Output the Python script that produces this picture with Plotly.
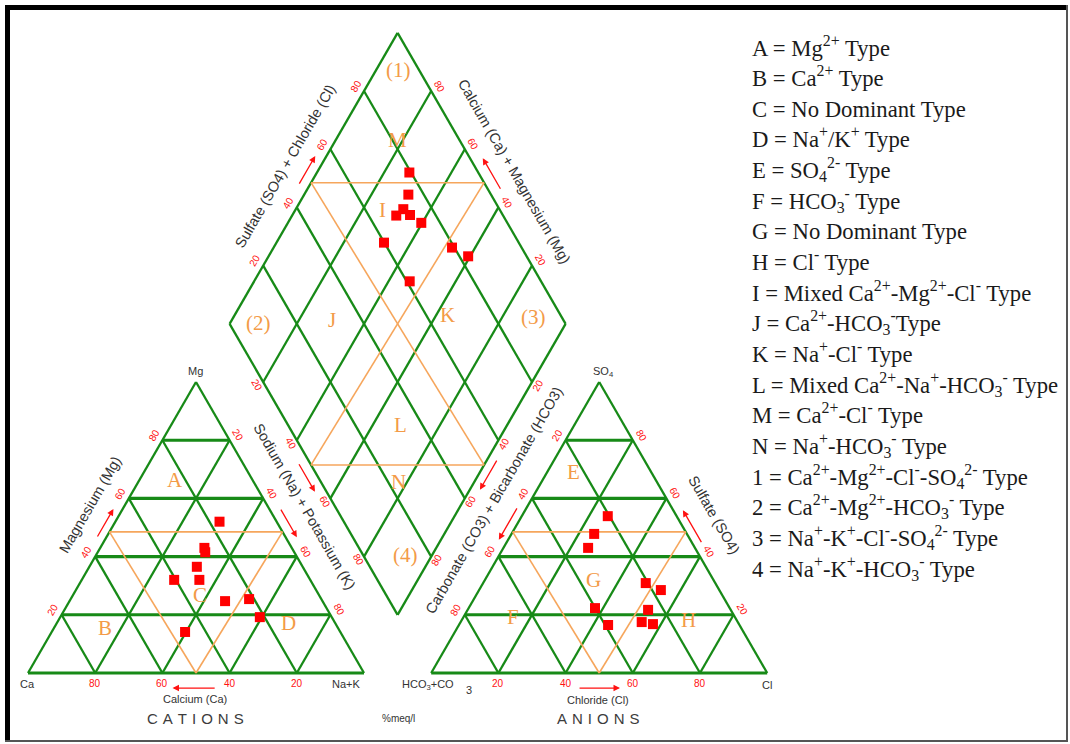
import numpy as np
import plotly.graph_objects as go

# ---------------- sample chemistry (% of total meq/l) ----------------
# cations
ca = [17.0, 26.0, 26.5, 31.5, 40.5, 33.0, 29.0, 21.5, 21.4, 46.2]
mg = [52.0, 43.0, 41.5, 36.5, 32.0, 32.0, 24.7, 25.4, 19.2, 14.1]
nak = [31.0, 31.0, 32.0, 32.0, 27.5, 35.0, 46.3, 53.1, 59.4, 39.7]
# anions
hco3 = [24.6, 31.8, 28.6, 40.1, 20.5, 27.6, 39.1, 20.7, 17.4, 25.6]
so4 = [21.7, 43.0, 17.5, 22.3, 53.9, 47.8, 16.5, 30.9, 28.5, 16.8]
cl = [53.7, 25.2, 53.9, 37.6, 25.6, 24.6, 44.4, 48.4, 54.1, 57.6]

tick_values = [20, 40, 60, 80]
facies_level = 48.5   # height (%) of the orange facies boundaries

legend_lines = [
    "A = Mg<sup>2+</sup> Type",
    "B = Ca<sup>2+</sup> Type",
    "C = No Dominant Type",
    "D = Na<sup>+</sup>/K<sup>+</sup> Type",
    "E = SO<sub>4</sub><sup>2-</sup> Type",
    "F = HCO<sub>3</sub><sup>-</sup> Type",
    "G = No Dominant Type",
    "H = Cl<sup>-</sup> Type",
    "I = Mixed Ca<sup>2+</sup>-Mg<sup>2+</sup>-Cl<sup>-</sup> Type",
    "J = Ca<sup>2+</sup>-HCO<sub>3</sub><sup>-</sup>Type",
    "K = Na<sup>+</sup>-Cl<sup>-</sup> Type",
    "L = Mixed Ca<sup>2+</sup>-Na<sup>+</sup>-HCO<sub>3</sub><sup>-</sup> Type",
    "M = Ca<sup>2+</sup>-Cl<sup>-</sup> Type",
    "N = Na<sup>+</sup>-HCO<sub>3</sub><sup>-</sup> Type",
    "1 = Ca<sup>2+</sup>-Mg<sup>2+</sup>-Cl<sup>-</sup>-SO<sub>4</sub><sup>2-</sup> Type",
    "2 = Ca<sup>2+</sup>-Mg<sup>2+</sup>-HCO<sub>3</sub><sup>-</sup> Type",
    "3 = Na<sup>+</sup>-K<sup>+</sup>-Cl<sup>-</sup>-SO<sub>4</sub><sup>2-</sup> Type",
    "4 = Na<sup>+</sup>-K<sup>+</sup>-HCO<sub>3</sub><sup>-</sup> Type",
]

# ---------------- geometry (triangle side = 100 units) ----------------
W, H = 1070, 744
PX = 3.36            # pixels per unit
X0, Y0 = 28, 673     # pixel position of the Ca corner
R3 = np.sqrt(3) / 2


def cat_xy(c, m, n):
    return n + m / 2.0, m * R3


def an_xy(h, s, c):
    return 120 + c + s / 2.0, s * R3


def dia_xy(a, c):
    # a = SO4 + Cl, c = Na + K
    return 60 + 0.5 * (a + c), 120 * R3 + R3 * (a - c)


CA, NAK, MGV = (0.0, 0.0), (100.0, 0.0), (50.0, 100 * R3)
HC, CLV, SOV = (120.0, 0.0), (220.0, 0.0), (170.0, 100 * R3)
DL, DT, DR, DB = dia_xy(0, 0), dia_xy(100, 0), dia_xy(100, 100), dia_xy(0, 100)
CC = (50.0, 100 * R3 / 3)
AC = (170.0, 100 * R3 / 3)
DC = dia_xy(50, 50)

GREEN = "#178a17"
ORANGE = "#f6a65c"
ORANGE_TXT = "#f39b48"
RED = "#ff1111"
DARK = "#333333"
SANS = "Liberation Sans, Arial, sans-serif"
SERIF = "Liberation Serif, Times New Roman, serif"

fig = go.Figure()


def add_lines(segs, color, width):
    xs, ys = [], []
    for p, q in segs:
        xs += [p[0], q[0], None]
        ys += [p[1], q[1], None]
    fig.add_trace(go.Scatter(x=xs, y=ys, mode="lines", hoverinfo="skip",
                             line=dict(color=color, width=width), showlegend=False))


# ---- grid lines ----
flat, slant = [], []
flat.append((CA, NAK))
flat.append((HC, CLV))
slant += [(CA, MGV), (MGV, NAK), (HC, SOV), (SOV, CLV),
          (DL, DT), (DT, DR), (DR, DB), (DB, DL)]
for v in tick_values:
    w = 100 - v
    flat.append((cat_xy(w, v, 0), cat_xy(0, v, w)))
    slant.append((cat_xy(v, 0, w), cat_xy(v, w, 0)))
    slant.append((cat_xy(w, 0, v), cat_xy(0, w, v)))
    flat.append((an_xy(w, v, 0), an_xy(0, v, w)))
    slant.append((an_xy(v, 0, w), an_xy(v, w, 0)))
    slant.append((an_xy(w, 0, v), an_xy(0, w, v)))
    slant.append((dia_xy(v, 0), dia_xy(v, 100)))
    slant.append((dia_xy(0, v), dia_xy(100, v)))
add_lines(slant, GREEN, 2.3)
add_lines(flat, GREEN, 3.1)

# ---- facies boundaries ----
h = facies_level
orange = []
for xy, base in ((cat_xy, (50.0, 0.0)), (an_xy, (170.0, 0.0))):
    p, q = xy(100 - h, h, 0), xy(0, h, 100 - h)
    orange += [(p, q), (p, base), (q, base)]
# diamond hourglass: horizontal chords at +/- h% of the half-height
cy = DC[1]
dy = h / 100 * 100 * R3
half = (100 - h) / 2
tl, tr = (DC[0] - half, cy + dy), (DC[0] + half, cy + dy)
bl, br = (DC[0] - half, cy - dy), (DC[0] + half, cy - dy)
orange += [(tl, tr), (bl, br), (tl, br), (tr, bl)]
add_lines(orange, ORANGE, 1.6)

# ---- samples ----
cx, cy_ = zip(*[cat_xy(a, b, c) for a, b, c in zip(ca, mg, nak)])
ax_, ay_ = zip(*[an_xy(a, b, c) for a, b, c in zip(hco3, so4, cl)])
dx, dy_ = zip(*[dia_xy(s + c, n) for s, c, n in zip(so4, cl, nak)])
fig.add_trace(go.Scatter(x=list(cx) + list(ax_) + list(dx),
                         y=list(cy_) + list(ay_) + list(dy_),
                         mode="markers", showlegend=False,
                         marker=dict(symbol="square", size=10, color="#ff0000",
                                     line=dict(width=0))))

# ---- edge labels, arrows and titles ----
ann = []


def along(p0, p1, t, off, centre):
    p0, p1 = np.array(p0), np.array(p1)
    d = (p1 - p0) / np.linalg.norm(p1 - p0)
    n = np.array([-d[1], d[0]])
    if np.dot(n, (p0 + p1) / 2 - np.array(centre)) < 0:
        n = -n
    return p0 + t * (p1 - p0) + off * n


edges = [
    dict(p0=CA, p1=MGV, c=CC, ang=-60, loff=3.0, arrow=(0.45, 0.55, 2.4),
         title=("Magnesium (Mg)", 0.525, 9.0)),
    dict(p0=MGV, p1=NAK, c=CC, ang=60, loff=3.0, arrow=(0.45, 0.55, 2.9),
         title=("Sodium (Na) + Potassium (K)", 0.484, 9.5)),
    dict(p0=NAK, p1=CA, c=CC, ang=0, loff=3.0, arrow=(0.44, 0.57, 4.5), title=None),
    dict(p0=SOV, p1=HC, c=AC, ang=-60, loff=3.0, arrow=(0.443, 0.556, 2.4),
         title=("Carbonate (CO3) + Bicarbonate (HCO3)", 0.46, 9.6)),
    dict(p0=CLV, p1=SOV, c=AC, ang=60, loff=3.0, arrow=(0.43, 0.545, 2.5),
         title=("Sulfate (SO4)", 0.486, 9.8)),
    dict(p0=HC, p1=CLV, c=AC, ang=0, loff=3.0, arrow=(0.437, 0.562, 4.5), title=None),
    dict(p0=DL, p1=DT, c=DC, ang=-60, loff=2.9, arrow=(0.46, 0.56, 2.9),
         title=("Sulfate (SO4) + Chloride (Cl)", 0.49, 9.2)),
    dict(p0=DR, p1=DT, c=DC, ang=60, loff=2.9, arrow=(0.44, 0.55, 3.3),
         title=("Calcium (Ca) + Magnesium (Mg)", 0.47, 9.3)),
    dict(p0=DL, p1=DB, c=DC, ang=60, loff=2.0, arrow=(0.46, 0.56, 3.0), title=None),
    dict(p0=DR, p1=DB, c=DC, ang=-60, loff=2.0, arrow=(0.45, 0.555, 2.6), title=None),
]

for e in edges:
    for v in tick_values:
        p = along(e["p0"], e["p1"], v / 100.0, e["loff"], e["c"])
        ann.append(dict(x=p[0], y=p[1], text=str(v), showarrow=False, textangle=e["ang"],
                        font=dict(family=SANS, size=10, color=RED)))
    t0, t1, off = e["arrow"]
    a = along(e["p0"], e["p1"], t0, off, e["c"])
    b = along(e["p0"], e["p1"], t1, off, e["c"])
    ann.append(dict(x=b[0], y=b[1], ax=a[0], ay=a[1], axref="x", ayref="y", text="",
                    showarrow=True, arrowhead=2, arrowsize=1.0, arrowwidth=1.3,
                    arrowcolor=RED, standoff=0, startstandoff=0))
    if e["title"]:
        txt, tt, toff = e["title"]
        p = along(e["p0"], e["p1"], tt, toff, e["c"])
        ann.append(dict(x=p[0], y=p[1], text=txt, showarrow=False, textangle=e["ang"],
                        font=dict(family=SANS, size=14.5, color=DARK)))


def u(px, py):
    return (px - X0) / PX, (Y0 - py) / PX


def text_at(px, py, txt, size, color=DARK, family=SANS, **kw):
    x, y = u(px, py)
    ann.append(dict(x=x, y=y, text=txt, showarrow=False,
                    font=dict(family=family, size=size, color=color), **kw))


# corner and axis captions
text_at(195, 371, "Mg", 11)
text_at(27, 684, "Ca", 11)
text_at(346, 684, "Na+K", 11)
text_at(603, 372, "SO<sub>4</sub>", 11)
text_at(428, 685, "HCO<sub>3</sub>+CO", 11)
text_at(469, 690, "3", 11)
text_at(767, 685, "Cl", 11)
text_at(195, 699, "Calcium (Ca)", 11)
text_at(598, 700, "Chloride (Cl)", 11)
text_at(398, 718, "%meq/l", 10)
sp = "\u2004"
text_at(195, 718, sp.join("CATIONS"), 15, color="#3c3c3c")
text_at(598, 718, sp.join("ANIONS"), 15, color="#3c3c3c")

# facies letters
facies = [("A", 175, 480), ("B", 105, 628), ("C", 200, 595), ("D", 288, 623),
          ("E", 573, 472), ("F", 513, 617), ("G", 593, 580), ("H", 688, 620),
          ("(1)", 398, 70), ("M", 397, 140), ("I", 382, 210), ("(2)", 258, 323),
          ("J", 332, 320), ("K", 447, 315), ("(3)", 533, 317), ("L", 400, 425),
          ("N", 398, 482), ("(4)", 405, 555)]
for s, px, py in facies:
    text_at(px, py, s, 21, color=ORANGE_TXT, family=SERIF)

# key: every line carries a hidden sup/sub pair so all text boxes share one height
pad = '<span style="color:rgba(0,0,0,0)"><sup>.</sup><sub>.</sub></span>'
for i, line in enumerate(legend_lines):
    ann.append(dict(x=750 / W, y=1 - (47 + i * 30.65) / H, xref="paper", yref="paper",
                    xanchor="left", yanchor="middle", text=line + pad, showarrow=False,
                    font=dict(family=SERIF, size=22.7, color="#1a1a1a")))

# frame
shapes = [
    dict(type="line", xref="paper", yref="paper", x0=5 / W, x1=1068 / W,
         y0=1 - 7.5 / H, y1=1 - 7.5 / H, line=dict(color="black", width=5)),
    dict(type="line", xref="paper", yref="paper", x0=7.5 / W, x1=7.5 / W,
         y0=1 - 5 / H, y1=1 - 742 / H, line=dict(color="black", width=5)),
    dict(type="line", xref="paper", yref="paper", x0=1067 / W, x1=1067 / W,
         y0=1 - 5 / H, y1=1 - 742 / H, line=dict(color="#555555", width=2)),
    dict(type="line", xref="paper", yref="paper", x0=5 / W, x1=1068 / W,
         y0=1 - 741 / H, y1=1 - 741 / H, line=dict(color="#555555", width=2)),
]

fig.update_layout(
    width=W, height=H, margin=dict(l=0, r=0, t=0, b=0),
    paper_bgcolor="white", plot_bgcolor="white",
    xaxis=dict(range=[-X0 / PX, (W - X0) / PX], visible=False, fixedrange=True),
    yaxis=dict(range=[-(H - Y0) / PX, Y0 / PX], visible=False, fixedrange=True),
    annotations=ann, shapes=shapes, showlegend=False,
)

fig.write_html("out.html")
